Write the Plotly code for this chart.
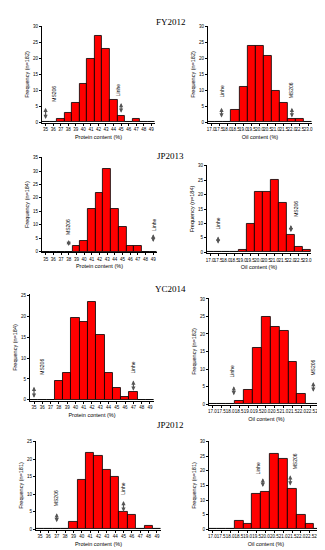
import plotly.graph_objects as go

W, H = 325, 550

protein_bins = [35, 36, 37, 38, 39, 40, 41, 42, 43, 44, 45, 46, 47, 48, 49]
oil_bins = [17.0, 17.5, 18.0, 18.5, 19.0, 19.5, 20.0, 20.5, 21.0, 21.5, 22.0, 22.5, 23.0]
protein_ticks = ["35", "36", "37", "38", "39", "40", "41", "42", "43", "44", "45", "46", "47", "48", "49"]
oil_ticks = ["17.0", "17.5", "18.0", "18.5", "19.0", "19.5", "20.0", "20.5", "21.0", "21.5", "22.0", "22.5", "23.0"]

# Frequencies
fy2012_protein = [0, 0, 1, 3, 6, 12, 20, 27, 23, 7, 2, 0, 1, 0, 0]
fy2012_oil = [0, 0, 0, 4, 11, 24, 24, 21, 10, 6, 1, 1, 0]
jp2013_protein = [0, 0, 0, 0, 2, 4, 16, 22, 31, 16, 9, 2, 2, 0, 0]
jp2013_oil = [0, 0, 0, 0, 1, 10, 21, 21, 25, 17, 6, 2, 1]
yc2014_protein = [0, 0, 0, 4.5, 6.5, 19.5, 18.5, 23.5, 15.5, 6.5, 2.8, 0.8, 1.8, 0, 0]
yc2014_oil = [0, 0, 0, 1, 4, 16, 25, 22, 21, 12, 3, 0, 0]
jp2012_protein = [0, 0, 0, 0, 2, 14, 22, 21, 17, 15, 5, 4, 0, 1, 0]
jp2012_oil = [0, 0, 0, 3, 2, 12, 13, 26, 24, 14, 5, 2, 0]

panel_titles = ["FY2012", "JP2013", "YC2014", "JP2012"]
ytitles = ["Frequency (n=182)", "Frequency (n=182)", "Frequency (n=184)", "Frequency (n=184)",
           "Frequency (n=184)", "Frequency (n=182)", "Frequency (n=181)", "Frequency (n=181)"]

# parent markers: (label, x position of arrow, arrow tip y, arrow tail y, label x, label center y)
markers = [
    [("MS206", 35, 1, 5, 36, 9), ("Linhe", 45, 3, 6.5, 44.7, 10)],
    [("Linhe", 17.65, 1.5, 5, 17.65, 9.5), ("MS206", 22.0, 1.5, 5, 22.0, 10)],
    [("MS206", 38, 2, 4.8, 38, 9), ("Linhe", 49, 3.5, 7, 49, 10)],
    [("Linhe", 17.5, 3, 6, 17.5, 10), ("MS206", 22.0, 7, 10, 22.3, 15)],
    [("MS206", 35, 0.5, 3.5, 36, 8), ("Linhe", 47, 2.2, 5, 47, 7.8)],
    [("Linhe", 18.2, 2.5, 5.5, 18.1, 9.3), ("MS206", 22.65, 3.5, 6.7, 22.65, 10.5)],
    [("MS206", 37, 2, 5, 37, 8.8), ("Linhe", 45, 5, 8.5, 44.9, 11.5)],
    [("Linhe", 19.85, 14.5, 18, 19.6, 21), ("MS206", 21.4, 15, 19, 21.67, 23.3)],
]

# layout geometry (pixels): x0, x1, ytop, ybottom
geo = [
    (33, 147, 16, 114), (200, 305, 16, 114),
    (33, 149, 148, 244), (199, 304, 156, 245),
    (21, 146, 286, 394), (201, 317, 290, 398),
    (27, 153, 434, 524), (201, 316, 434, 524),
]
yranges = [(0, 30, 5), (0, 30, 5), (0, 35, 5), (0, 30, 5), (0, 25, 5), (0, 30, 5), (0, 25, 5), (0, 30, 5)]
data = [fy2012_protein, fy2012_oil, jp2013_protein, jp2013_oil,
        yc2014_protein, yc2014_oil, jp2012_protein, jp2012_oil]

fig = go.Figure()
anns = []
for i in range(8):
    is_prot = (i % 2 == 0)
    xs = protein_bins if is_prot else oil_bins
    width = 1 if is_prot else 0.5
    n = i + 1
    xa = "x" if n == 1 else f"x{n}"
    ya = "y" if n == 1 else f"y{n}"
    fig.add_trace(go.Bar(x=xs, y=data[i], width=width, xaxis=xa, yaxis=ya,
                         marker=dict(color="#FF0000", line=dict(color="black", width=0.8)),
                         showlegend=False, hoverinfo="x+y"))
    x0, x1, yt, yb = geo[i]
    xr = [34.5, 49.5] if is_prot else [16.8, 23.25]
    ymin, ymax, dt = yranges[i]
    xkey = "xaxis" if n == 1 else f"xaxis{n}"
    ykey = "yaxis" if n == 1 else f"yaxis{n}"
    fig.update_layout(**{
        xkey: dict(domain=[x0 / W, x1 / W], anchor=ya, range=xr,
                   tickvals=xs, ticktext=protein_ticks if is_prot else oil_ticks,
                   showline=True, linecolor="black", linewidth=0.8, ticks="outside",
                   ticklen=2, tickwidth=0.8, tickcolor="black", showgrid=False, zeroline=False,
                   tickfont=dict(size=4.5, family="Liberation Sans", color="black"), tickangle=0,
                   title=dict(text="Protein content (%)" if is_prot else "Oil content (%)",
                              font=dict(size=5.5, family="Liberation Sans", color="black"), standoff=3),
                   fixedrange=True),
        ykey: dict(domain=[1 - yb / H, 1 - yt / H], anchor=xa, range=[ymin - 0.3, ymax + 0.3],
                   tickmode="linear", tick0=0, dtick=dt,
                   showline=True, linecolor="black", linewidth=0.8, ticks="outside",
                   ticklen=2, tickwidth=0.8, tickcolor="black", showgrid=False, zeroline=False,
                   tickfont=dict(size=4.5, family="Liberation Sans", color="black"),
                   title=dict(text=ytitles[i], font=dict(size=5.5, family="Liberation Sans", color="black"),
                              standoff=3),
                   fixedrange=True),
    })
    for (lab, ax_, tip, tail, lx, ly) in markers[i]:
        anns.append(dict(x=ax_, y=tip, ax=ax_, ay=tail, xref=xa, yref=ya, axref=xa, ayref=ya,
                         showarrow=True, arrowhead=2, arrowside="end+start", arrowsize=0.7,
                         arrowwidth=1.2, arrowcolor="#555555", text=""))
        anns.append(dict(x=lx, y=ly, xref=xa, yref=ya, text=lab, textangle=-90, showarrow=False,
                         font=dict(size=5, family="Liberation Sans", color="black")))

title_pos = [(163, 12), (163, 147), (163, 281), (163, 418)]
for t, (px, py) in zip(panel_titles, title_pos):
    anns.append(dict(x=px / W, y=1 - py / H, xref="paper", yref="paper", text=t, showarrow=False,
                     font=dict(size=9, family="Liberation Serif", color="black"),
                     xanchor="center", yanchor="middle"))

fig.update_layout(width=W, height=H, margin=dict(l=0, r=0, t=0, b=0),
                  paper_bgcolor="white", plot_bgcolor="white", bargap=0,
                  annotations=anns)
fig.write_html("out.html")
